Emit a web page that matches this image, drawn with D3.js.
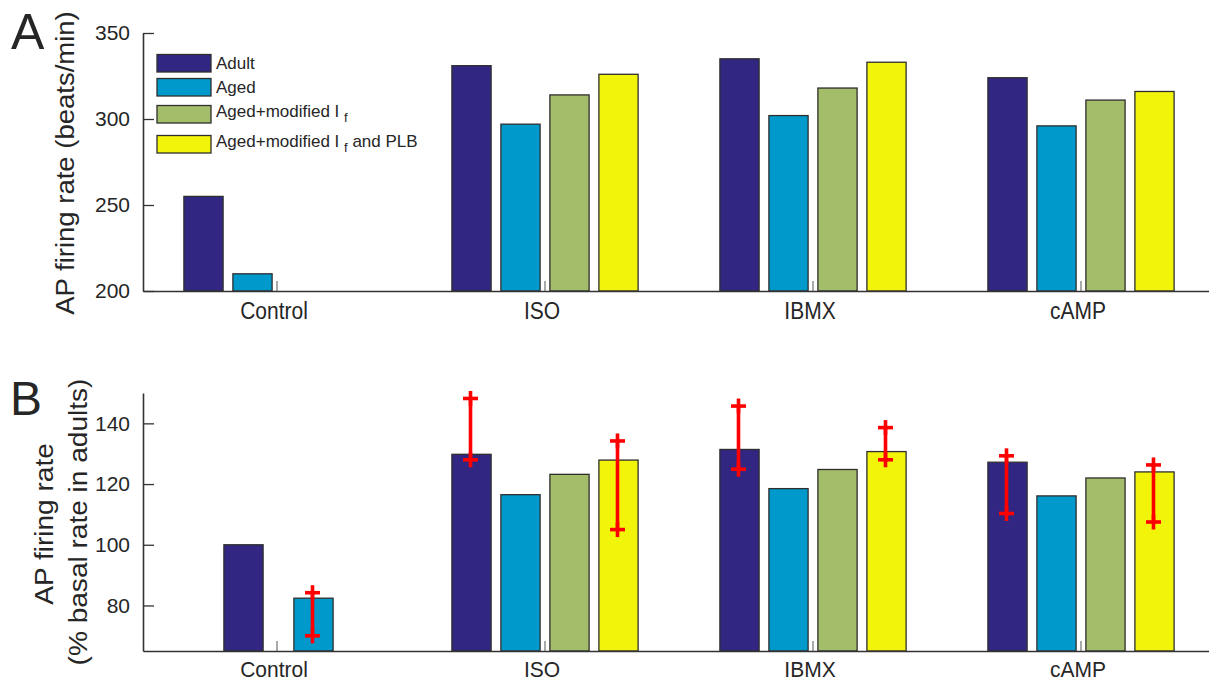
<!DOCTYPE html>
<html><head><meta charset="utf-8">
<script src="https://cdn.jsdelivr.net/npm/d3@7"></script>
<style>
body{margin:0;background:#fff}
svg{display:block}
text{font-family:"Liberation Sans",Arial,Helvetica,sans-serif;fill:#262626}
</style>
</head><body>
<svg id="chart" width="1209" height="682"></svg>
<script>
// ---------- data ----------
const categories = ["Control", "ISO", "IBMX", "cAMP"];
const seriesNames = ["Adult", "Aged", "Aged+modified I_f", "Aged+modified I_f and PLB"];

// Panel A: AP firing rate (beats/min)
const rateAdult    = [255, 331, 335, 324];
const rateAged     = [210, 297, 302, 296];
const rateModIf    = [null, 314, 318, 311];
const rateModIfPLB = [null, 326, 333, 316];
const rateTicks    = [200, 250, 300, 350];

// Panel B: AP firing rate (% basal rate in adults)
const pctAdult    = [100, 129.8, 131.4, 127.2];
const pctAged     = [82.4, 116.5, 118.5, 116.1];
const pctModIf    = [null, 123.2, 124.8, 122.0];
const pctModIfPLB = [null, 127.9, 130.7, 124.0];
const pctTicks    = [80, 100, 120, 140];

// experimental ranges (red bars) in panel B
const errAdultLow     = [null, 128.0, 124.9, 110.3];
const errAdultHigh    = [null, 148.2, 145.7, 129.3];
const errAgedLow      = [70.0, null, null, null];
const errAgedHigh     = [84.2, null, null, null];
const errModIfLow     = [null, null, null, null];
const errModIfHigh    = [null, null, null, null];
const errModIfPLBLow  = [null, 105.0, 128.0, 107.5];
const errModIfPLBHigh = [null, 134.2, 138.6, 126.3];

// ---------- styles ----------
const colors = ["#312783", "#0099cc", "#a4bd6a", "#f2f50a"];
const FONT = '"Liberation Sans",Arial,Helvetica,sans-serif';

const svg = d3.select("#chart");

function addText(x, y, str, opts) {
  const o = Object.assign({size: 20, anchor: "start", rotate: false, sy: 1, weight: "normal"}, opts);
  const g = svg.append("g")
    .attr("transform", `translate(${x},${y}) scale(1,${o.sy})` + (o.rotate ? " rotate(-90)" : ""));
  return g.append("text")
    .attr("text-anchor", o.anchor)
    .style("font-size", o.size + "px")
    .style("font-weight", o.weight)
    .text(str);
}

const x = d3.scaleBand().domain(categories).range([143, 1215]).paddingInner(0).paddingOuter(0);

function drawPanel(cfg) {
  const y = d3.scaleLinear().domain(cfg.domain).range(cfg.range);
  const base = y(cfg.domain[0]);
  const gBars = svg.append("g");
  const gErr = svg.append("g");

  categories.forEach((cat, i) => {
    const present = seriesNames.filter((s, k) => cfg.values[k][i] != null);
    const dom = cfg.compact ? present : seriesNames;
    const n = dom.length;
    const step = n >= 4 ? 49 : 70;
    const pad = 1 - 39.2 / step;
    const inner = d3.scaleBand().domain(dom)
      .range([-n * step / 2 + cfg.shift(n), n * step / 2 + cfg.shift(n)])
      .paddingInner(pad).paddingOuter(pad / 2);
    const cx = x(cat) + x.bandwidth() / 2;

    seriesNames.forEach((s, k) => {
      const v = cfg.values[k][i];
      if (v == null) return;
      const bx = cx + inner(s);
      gBars.append("rect")
        .attr("x", bx).attr("y", y(v))
        .attr("width", inner.bandwidth()).attr("height", base - y(v))
        .attr("fill", colors[k]).attr("stroke", "#2e2e2e").attr("stroke-width", 1.3);
      if (cfg.lows) {
        const lo = cfg.lows[k][i], hi = cfg.highs[k][i];
        if (lo == null || hi == null) return;
        const ex = bx + inner.bandwidth() / 2 - 1;
        const m = 7.5;
        const line = (x1, y1, x2, y2) => gErr.append("line")
          .attr("x1", x1).attr("y1", y1).attr("x2", x2).attr("y2", y2)
          .attr("stroke", "#ff0000").attr("stroke-width", 3.6);
        line(ex, y(hi), ex, y(lo));
        [lo, hi].forEach(val => {
          line(ex - m, y(val), ex + m, y(val));
          line(ex, y(val) - m, ex, y(val) + m);
        });
      }
    });
  });

  // x axis
  const gx = svg.append("g").attr("transform", `translate(0,${base})`)
    .call(d3.axisBottom(x).tickSize(-10).tickSizeOuter(0).tickFormat(""));
  gx.select(".domain").attr("stroke", "#333").attr("stroke-width", 1.6);
  gx.selectAll(".tick line").attr("stroke", "#555").attr("stroke-width", 1);

  categories.forEach(cat => {
    addText(x(cat) + x.bandwidth() / 2 - 3, base + cfg.labelGap, cat,
      {size: 21, anchor: "middle", sy: cfg.labelSy});
  });

  // y axis
  const gy = svg.append("g").attr("transform", "translate(143,0)")
    .call(d3.axisLeft(y).tickValues(cfg.ticks).tickSize(-11).tickSizeOuter(0).tickPadding(13));
  gy.select(".domain").attr("stroke", "#333").attr("stroke-width", 1.6);
  gy.selectAll(".tick line").attr("stroke", "#333").attr("stroke-width", 1.3);
  gy.selectAll(".tick text").style("font-size", "21px").style("font-family", FONT).attr("fill", "#262626");
  return y;
}

// ---------- panel A ----------
drawPanel({
  values: [rateAdult, rateAged, rateModIf, rateModIfPLB],
  domain: [200, 350], range: [291, 33], ticks: rateTicks,
  compact: false, shift: () => 0, labelGap: 28, labelSy: 1.11
});

// ---------- panel B ----------
drawPanel({
  values: [pctAdult, pctAged, pctModIf, pctModIfPLB],
  lows: [errAdultLow, errAgedLow, errModIfLow, errModIfPLBLow],
  highs: [errAdultHigh, errAgedHigh, errModIfHigh, errModIfPLBHigh],
  domain: [65, 150], range: [651, 393], ticks: pctTicks,
  compact: true, shift: n => (n < 4 ? 1.5 : 0), labelGap: 25.5, labelSy: 1.05
});

// ---------- axis titles & panel labels ----------
addText(74, 163, "AP firing rate (beats/min)", {size: 25, anchor: "middle", rotate: true, sy: 1.1});
addText(53, 524, "AP firing rate", {size: 25.5, anchor: "middle", rotate: true, sy: 1.1});
addText(87, 522, "(% basal rate in adults)", {size: 25.5, anchor: "middle", rotate: true, sy: 1.1});
addText(11, 49, "A", {size: 50});
addText(10, 415, "B", {size: 48});

// ---------- legend ----------
const legTop = [54.5, 78.5, 105.5, 135.5];
const legBase = [69, 92.5, 116.5, 146.5];
seriesNames.forEach((s, k) => {
  svg.append("rect").attr("x", 157).attr("y", legTop[k]).attr("width", 54).attr("height", 17.5)
    .attr("fill", colors[k]).attr("stroke", "#2e2e2e").attr("stroke-width", 1.3);
  const t = addText(216, legBase[k], "", {size: 17});
  const parts = s.split("_f");
  t.append("tspan").text(parts[0] + (parts.length > 1 ? " " : ""));
  if (parts.length > 1) {
    t.append("tspan").attr("dy", 5).style("font-size", "13px").text("f");
    if (parts[1]) t.append("tspan").attr("dy", -5).text(" " + parts[1].trim());
  }
});
</script>
</body></html>
